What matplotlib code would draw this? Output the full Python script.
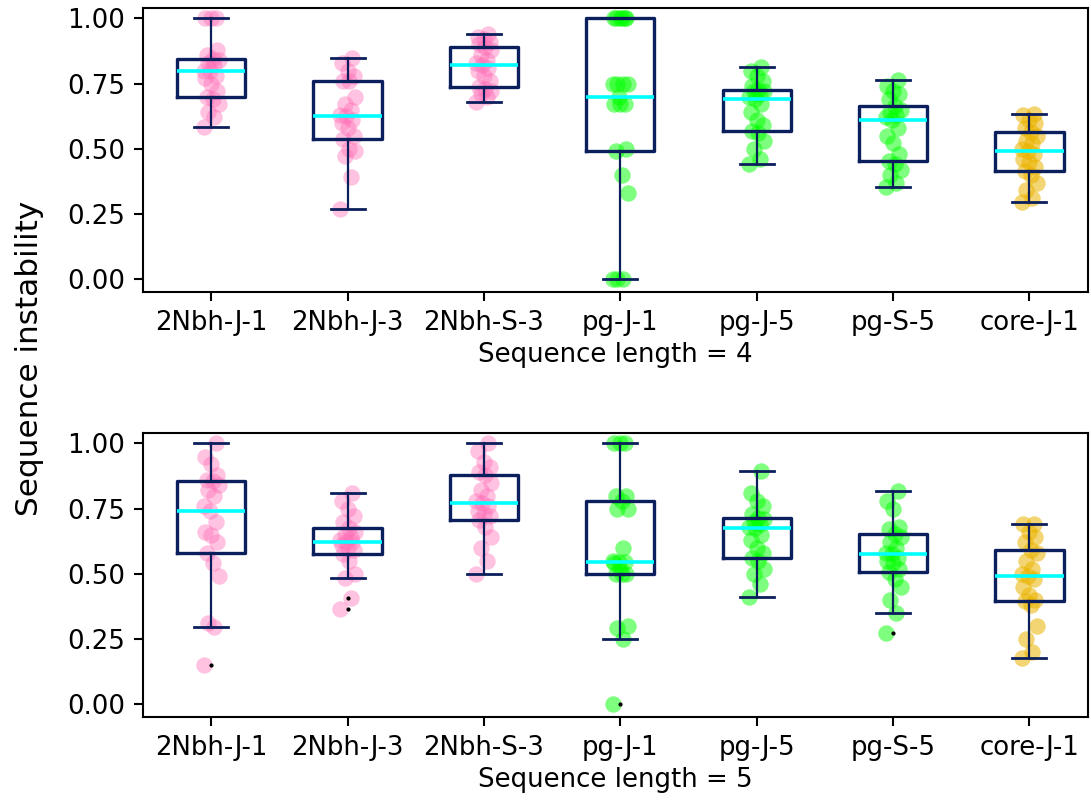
import numpy as np
import matplotlib.pyplot as plt

labels = ["2Nbh-J-1", "2Nbh-J-3", "2Nbh-S-3", "pg-J-1", "pg-J-5", "pg-S-5", "core-J-1"]
colors = ["hotpink", "hotpink", "hotpink", "lime", "lime", "lime", "#ebb400"]

# sequence length = 4
len4 = [
    [0.583, 0.62, 0.64, 0.67, 0.69, 0.70, 0.72, 0.75, 0.77, 0.78, 0.80, 0.80, 0.82, 0.83, 0.84, 0.845, 0.86, 0.88, 1.0, 1.0, 1.0],
    [0.27, 0.39, 0.47, 0.49, 0.50, 0.537, 0.55, 0.58, 0.60, 0.61, 0.624, 0.63, 0.65, 0.67, 0.70, 0.759, 0.76, 0.78, 0.80, 0.83, 0.85],
    [0.68, 0.70, 0.71, 0.72, 0.73, 0.735, 0.76, 0.78, 0.80, 0.81, 0.823, 0.83, 0.84, 0.86, 0.88, 0.89, 0.90, 0.91, 0.92, 0.93, 0.94],
    [0.0, 0.0, 0.0, 0.33, 0.40, 0.49, 0.50, 0.67, 0.67, 0.67, 0.70, 0.75, 0.75, 0.75, 0.75, 1.0, 1.0, 1.0, 1.0, 1.0, 1.0],
    [0.44, 0.46, 0.50, 0.53, 0.56, 0.569, 0.59, 0.61, 0.64, 0.67, 0.691, 0.70, 0.71, 0.72, 0.72, 0.727, 0.74, 0.76, 0.78, 0.80, 0.813],
    [0.353, 0.37, 0.40, 0.42, 0.44, 0.451, 0.48, 0.52, 0.55, 0.58, 0.609, 0.62, 0.63, 0.64, 0.65, 0.663, 0.69, 0.71, 0.72, 0.74, 0.762],
    [0.295, 0.31, 0.34, 0.37, 0.40, 0.415, 0.43, 0.45, 0.46, 0.48, 0.49, 0.50, 0.52, 0.53, 0.55, 0.564, 0.58, 0.60, 0.61, 0.63, 0.635],
]

# sequence length = 5
len5 = [
    [0.15, 0.297, 0.31, 0.49, 0.54, 0.581, 0.62, 0.65, 0.66, 0.70, 0.742, 0.76, 0.80, 0.82, 0.84, 0.855, 0.86, 0.88, 0.92, 0.95, 1.0],
    [0.363, 0.407, 0.483, 0.50, 0.55, 0.577, 0.59, 0.60, 0.61, 0.62, 0.621, 0.63, 0.64, 0.65, 0.66, 0.677, 0.70, 0.72, 0.75, 0.78, 0.811],
    [0.50, 0.55, 0.60, 0.64, 0.68, 0.705, 0.72, 0.73, 0.74, 0.76, 0.771, 0.78, 0.80, 0.82, 0.85, 0.88, 0.89, 0.91, 0.93, 0.97, 1.0],
    [0.0, 0.25, 0.29, 0.30, 0.50, 0.50, 0.50, 0.52, 0.54, 0.545, 0.545, 0.55, 0.60, 0.75, 0.75, 0.78, 0.80, 0.80, 1.0, 1.0, 1.0],
    [0.41, 0.46, 0.50, 0.52, 0.55, 0.561, 0.58, 0.60, 0.63, 0.65, 0.674, 0.68, 0.69, 0.70, 0.71, 0.713, 0.73, 0.76, 0.78, 0.81, 0.894],
    [0.274, 0.349, 0.40, 0.45, 0.48, 0.506, 0.52, 0.54, 0.55, 0.56, 0.576, 0.58, 0.60, 0.62, 0.64, 0.651, 0.67, 0.68, 0.75, 0.78, 0.819],
    [0.178, 0.20, 0.25, 0.30, 0.38, 0.394, 0.40, 0.42, 0.45, 0.48, 0.493, 0.50, 0.52, 0.55, 0.58, 0.593, 0.62, 0.64, 0.66, 0.69, 0.691],
]
alphas = [0.4, 0.4, 0.4, 0.5, 0.5, 0.5, 0.55]

navy = "#0b1f5c"
fs = 18.7

fig = plt.figure(figsize=(10.91, 8.02), dpi=100)
ax1 = fig.add_axes([0.1311, 0.636, 0.8662, 0.354])
ax2 = fig.add_axes([0.1311, 0.106, 0.8662, 0.354])

for ax, data, n in [(ax1, len4, 4), (ax2, len5, 5)]:
    pos = np.arange(1, 8)
    for i, d in enumerate(data):
        k = np.arange(len(d))
        jit = (((k * 7) % 11) - 5) * 0.011
        ax.scatter(pos[i] + jit, d, s=140, color=colors[i], alpha=alphas[i], lw=0, zorder=1)
    ax.boxplot(data, positions=pos, widths=0.5,
               boxprops=dict(color=navy, lw=2.4),
               whiskerprops=dict(color=navy, lw=1.6),
               capprops=dict(color=navy, lw=2.0),
               medianprops=dict(color="cyan", lw=2.6),
               flierprops=dict(marker=".", markersize=4, markerfacecolor="black",
                               markeredgecolor="black"))
    ax.set_xticks(pos)
    ax.set_xticklabels(labels)
    ax.set_xlim(0.5, 7.43)
    ax.set_ylim(-0.05, 1.04)
    ax.set_yticks([0, 0.25, 0.5, 0.75, 1.0])
    ax.set_yticklabels(["0.00", "0.25", "0.50", "0.75", "1.00"])
    ax.tick_params(labelsize=fs, length=6.5, width=1.5, pad=6.5)
    for sp in ax.spines.values():
        sp.set_linewidth(1.5)
    ax.set_xlabel("Sequence length = %d" % n, fontsize=fs, labelpad=4)

fig.text(0.027, 0.553, "Sequence instability", rotation=90, fontsize=22.4,
         ha="center", va="center")

plt.savefig("out.png", dpi=100)
